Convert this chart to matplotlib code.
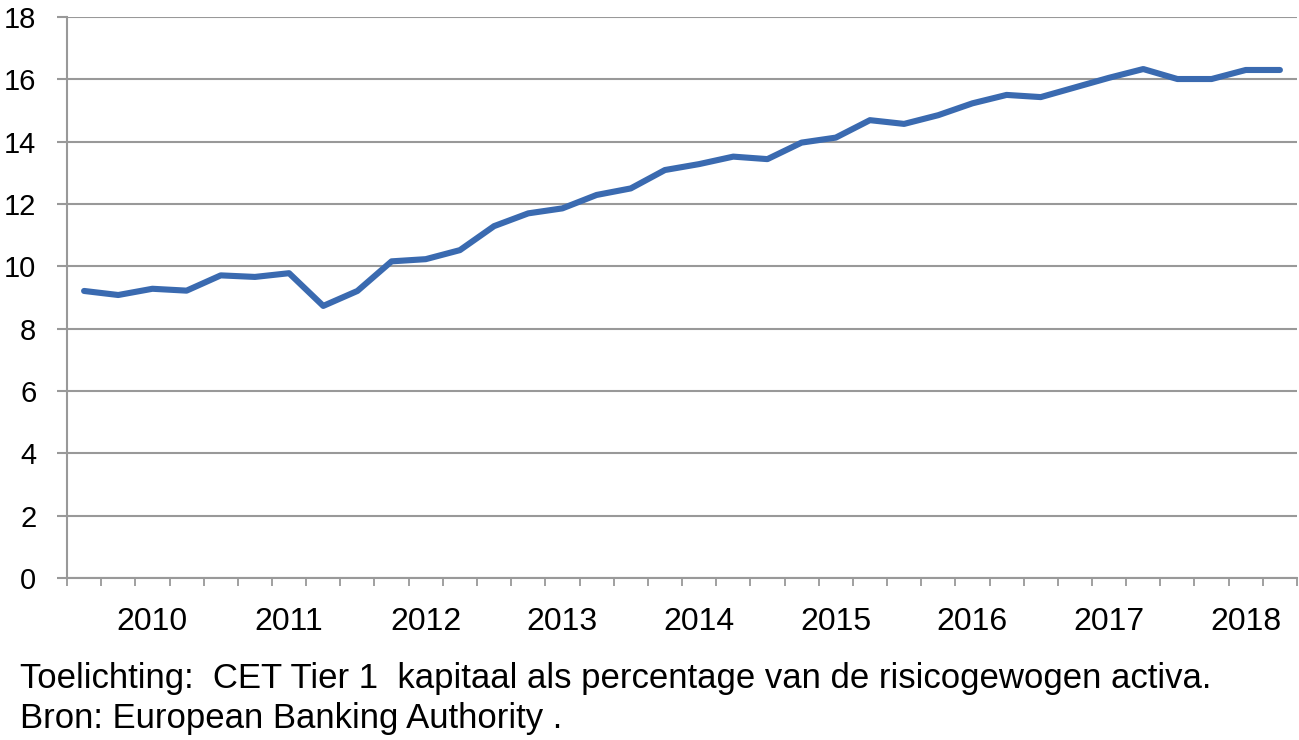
import numpy as np
import matplotlib.pyplot as plt

# CET1 ratio, quarterly (36 quarters)
values = [9.21, 9.08, 9.28, 9.22, 9.71, 9.66, 9.78, 8.73, 9.21, 10.16,
          10.23, 10.52, 11.29, 11.70, 11.86, 12.29, 12.50, 13.09, 13.28, 13.52,
          13.44, 13.97, 14.13, 14.69, 14.57, 14.85, 15.23, 15.50, 15.43, 15.74,
          16.05, 16.33, 16.01, 16.01, 16.30, 16.30]
years = ['2010', '2011', '2012', '2013', '2014', '2015', '2016', '2017', '2018']
year_pos = [2, 6, 10, 14, 18, 22, 26, 30, 34]
yticks = [0, 2, 4, 6, 8, 10, 12, 14, 16, 18]

plt.rcParams['font.family'] = ['Liberation Sans', 'DejaVu Sans']

fig = plt.figure(figsize=(12.99, 7.40), dpi=100)
ax = fig.add_axes([67 / 1299, 162 / 740, 1230 / 1299, 561 / 740])

x = np.arange(len(values))
ax.plot(x, values, color='#3A6AB0', linewidth=4.4, solid_capstyle='round',
        solid_joinstyle='round', zorder=3)

ax.set_xlim(-0.5, len(values) - 0.5)
ax.set_ylim(0, 18)
ax.set_yticks(yticks)
ax.set_yticklabels([str(t) for t in yticks])
ax.grid(axis='y', color='#999999', linewidth=1.5)
ax.set_axisbelow(True)

# category boundary ticks, year labels between
ax.set_xticks(np.arange(-0.5, len(values), 1.0))
ax.set_xticklabels([])
ax.set_xticks(year_pos, minor=True)
ax.set_xticklabels(years, minor=True)
ax.tick_params(axis='x', which='major', length=6, width=1.3, color='#999999', direction='out')
ax.tick_params(axis='x', which='minor', length=0, pad=21, labelsize=23)
ax.tick_params(axis='y', length=7, width=1.5, color='#999999', pad=15, labelsize=21)

for s in ['top', 'right']:
    ax.spines[s].set_visible(False)
for s in ['left', 'bottom']:
    ax.spines[s].set_color('#999999')
    ax.spines[s].set_linewidth(1.5)

fig.text(20 / 1299, 1 - 688 / 740,
         'Toelichting:  CET Tier 1  kapitaal als percentage van de risicogewogen activa.',
         fontsize=25, ha='left', va='baseline')
fig.text(20 / 1299, 1 - 728 / 740, 'Bron: European Banking Authority .',
         fontsize=25, ha='left', va='baseline')

fig.savefig('out.png', dpi=100)
